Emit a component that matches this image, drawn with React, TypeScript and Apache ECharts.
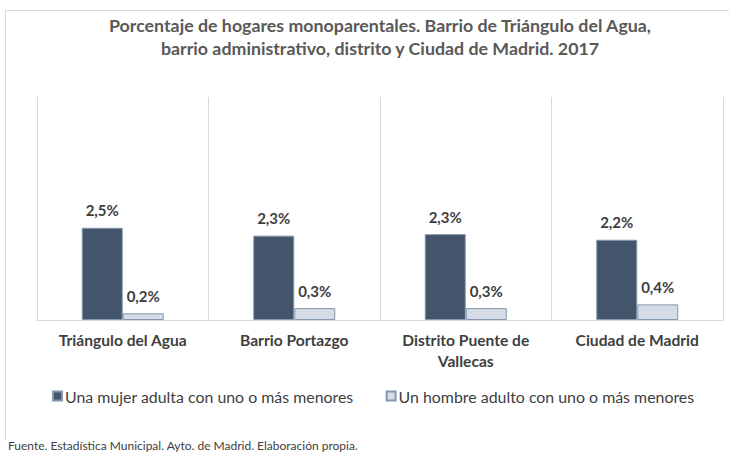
import React, { useEffect, useRef } from "react";
import * as echarts from "echarts";

const categories = ["Triángulo del Agua", "Barrio Portazgo", "Distrito Puente de\nVallecas", "Ciudad de Madrid"];
const seriesNames = ["Una mujer adulta con uno o más menores", "Un hombre adulto con uno o más menores"];
const mujerValues = [2.48, 2.27, 2.31, 2.16];
const hombreValues = [0.18, 0.32, 0.32, 0.42];
const titleLines = [
  "Porcentaje de hogares monoparentales. Barrio de Triángulo del Agua,",
  "barrio administrativo, distrito y Ciudad de Madrid. 2017",
];
const footerText = "Fuente. Estadística Municipal. Ayto. de Madrid. Elaboración propia.";

const FONT = "Lato";

export default function App() {
  const ref = useRef<HTMLDivElement>(null);
  useEffect(() => {
    if (!ref.current) return;
    const chart = echarts.init(ref.current, undefined, { renderer: "svg" });
    const fmt = (p: any) => p.value.toFixed(1).replace(".", ",") + "%";
    const labelStyle = {
      show: true,
      position: "top" as const,
      distance: 10,
      formatter: fmt,
      color: "#404040",
      fontFamily: FONT,
      fontWeight: "bold" as const,
      fontSize: 15,
    };
    chart.setOption({
      animation: false,
      backgroundColor: "#ffffff",
      title: {
        text: titleLines.join("\n"),
        left: 375,
        top: 8,
        textAlign: "center",
        textStyle: {
          fontFamily: FONT,
          fontWeight: "bold",
          fontSize: 17.8,
          color: "#595959",
          lineHeight: 23,
        },
      },
      grid: { left: 37, right: 6, top: 97, bottom: 134 },
      xAxis: {
        type: "category",
        data: categories,
        axisLine: { show: true, lineStyle: { color: "#d9d9d9", width: 1 } },
        axisTick: { show: false },
        splitLine: { show: true, lineStyle: { color: "#d9d9d9", width: 1 } },
        axisLabel: {
          margin: 9,
          color: "#404040",
          fontFamily: FONT,
          fontWeight: "bold",
          fontSize: 15.6,
          lineHeight: 21,
        },
      },
      yAxis: {
        type: "value",
        min: 0,
        max: 6,
        show: false,
        splitLine: { show: false },
      },
      legend: {
        left: 47,
        top: 383,
        icon: "rect",
        itemWidth: 9,
        itemHeight: 9,
        itemGap: 32,
        textStyle: { fontFamily: FONT, fontSize: 15.9, color: "#404040", padding: [0, 0, 0, -2] },
        data: seriesNames,
      },
      graphic: [
        { type: "line", shape: { x1: 5.5, y1: 10, x2: 5.5, y2: 440 }, style: { stroke: "#d9d9d9", lineWidth: 1 } },
        { type: "line", shape: { x1: 5, y1: 10.5, x2: 729, y2: 10.5 }, style: { stroke: "#d9d9d9", lineWidth: 1 } },
        {
          type: "text",
          left: 8,
          top: 439,
          style: { text: footerText, fontFamily: FONT, fontSize: 12, fill: "#404040" },
        },
      ],
      series: [
        {
          name: seriesNames[0],
          type: "bar",
          data: mujerValues,
          barWidth: 41,
          barGap: "0%",
          itemStyle: { color: "#44546a", borderColor: "#8497b0", borderWidth: 1 },
          label: labelStyle,
        },
        {
          name: seriesNames[1],
          type: "bar",
          data: hombreValues,
          barWidth: 41,
          barGap: "0%",
          itemStyle: { color: "#d6dce5", borderColor: "#8497b0", borderWidth: 1 },
          label: labelStyle,
        },
      ],
    });
    return () => chart.dispose();
  }, []);
  return <div ref={ref} style={{ width: 729, height: 454, position: "absolute", left: 0, top: 0 }} />;
}
